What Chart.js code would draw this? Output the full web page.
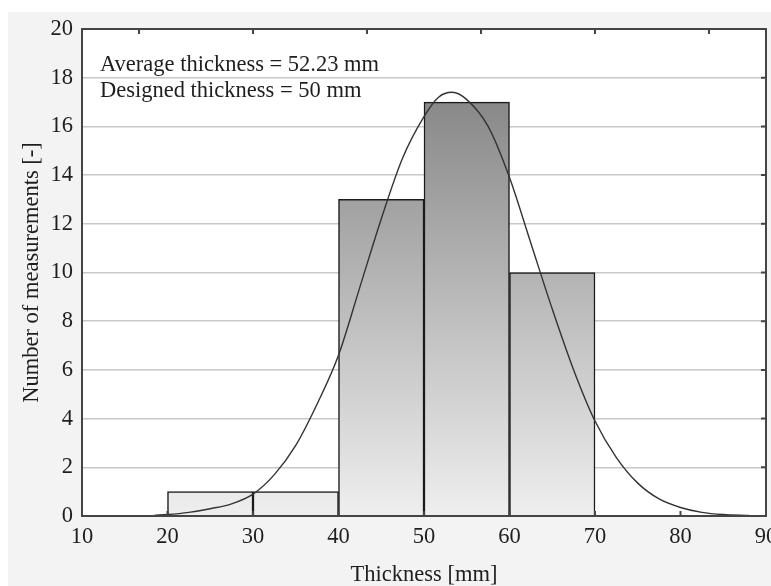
<!doctype html>
<html>
<head>
  <meta charset="utf-8">
  <title>Thickness histogram</title>
  <script src="https://cdn.jsdelivr.net/npm/chart.js"></script>
  <style>html,body{margin:0;padding:0;background:#fff}#wrap{width:771px;height:586px}</style>
</head>
<body>
  <div id="wrap"><canvas id="chart" width="771" height="586"></canvas></div>
  <script>
    // histogram bins (centre of 10 mm class) and counts
    const binCentres = [25, 35, 45, 55, 65];
    const counts = [1, 1, 13, 17, 10];
    // fitted curve
    const curveX = [18.5, 20, 22.5, 25, 27.5, 30, 32.5, 35, 37.5, 40, 42.5, 45, 47.5, 50, 51.7, 53.3, 55, 57.5, 60, 62.5, 65, 67.5, 70, 72.5, 75, 77.5, 80, 82.5, 85, 88];
    const curveY = [0.03, 0.06, 0.15, 0.3, 0.5, 0.9, 1.7, 2.9, 4.6, 6.6, 9.4, 12.2, 14.7, 16.4, 17.2, 17.4, 17.1, 16.0, 13.9, 11.2, 8.5, 6.0, 3.9, 2.4, 1.35, 0.7, 0.35, 0.15, 0.06, 0.02];
    const xTicks = [10, 20, 30, 40, 50, 60, 70, 80, 90];
    const topTicks = [16.67, 30, 43.33, 56.67, 70, 83.33];
    const notes = ['Average thickness = 52.23 mm', 'Designed thickness = 50 mm'];

    const serif = 'Liberation Serif, Times New Roman, serif';

    const frame = {
      id: 'frame',
      beforeDraw(chart) {
        const { ctx, chartArea: a } = chart;
        ctx.save();
        ctx.fillStyle = '#fff';
        ctx.fillRect(0, 0, chart.width, chart.height);
        ctx.fillStyle = '#f3f3f3';
        ctx.fillRect(8, 12, chart.width - 8, chart.height - 12);
        ctx.fillStyle = '#fff';
        ctx.fillRect(a.left, a.top, a.right - a.left, a.bottom - a.top);
        ctx.restore();
      },
      afterDatasetsDraw(chart) {
        const { ctx, chartArea: a, scales } = chart;
        ctx.save();
        ctx.strokeStyle = '#444';
        ctx.lineWidth = 2;
        ctx.beginPath();
        topTicks.forEach(v => {
          const x = scales.x.getPixelForValue(v);
          ctx.moveTo(x, a.top); ctx.lineTo(x, a.top + 5);
        });
        xTicks.forEach(v => {
          const x = scales.x.getPixelForValue(v);
          ctx.moveTo(x, a.bottom); ctx.lineTo(x, a.bottom - 5);
        });
        for (let v = 0; v <= 20; v += 2) {
          const y = scales.y.getPixelForValue(v);
          ctx.moveTo(a.right, y); ctx.lineTo(a.right - 5, y);
        }
        ctx.stroke();
        ctx.lineWidth = 2;
        ctx.strokeRect(a.left, a.top, a.right - a.left, a.bottom - a.top);
        ctx.fillStyle = '#1e1e1e';
        ctx.font = '22.5px ' + serif;
        ctx.textBaseline = 'alphabetic';
        notes.forEach((t, i) => ctx.fillText(t, a.left + 18, a.top + 42 + i * 26));
        ctx.restore();
      }
    };

    const ctx = document.getElementById('chart').getContext('2d');
    new Chart(ctx, {
      data: {
        datasets: [{
          type: 'line',
          order: 0,
          data: curveX.map((x, i) => ({ x, y: curveY[i] })),
          borderColor: '#333',
          borderWidth: 1.4,
          pointRadius: 0,
          cubicInterpolationMode: 'monotone',
          fill: false
        }, {
          type: 'bar',
          order: 1,
          data: binCentres.map((x, i) => ({ x, y: counts[i] })),
          barPercentage: 1,
          categoryPercentage: 1,
          borderColor: '#1a1a1a',
          borderWidth: 1.5,
          backgroundColor(c) {
            const { chart } = c;
            if (!chart.chartArea) return '#bbb';
            const y = chart.scales.y;
            const g = chart.ctx.createLinearGradient(0, y.getPixelForValue(17), 0, y.getPixelForValue(0));
            g.addColorStop(0, '#898989');
            g.addColorStop(1, '#efefef');
            return g;
          }
        }]
      },
      options: {
        responsive: false,
        animation: false,
        layout: { padding: { left: 0, right: 5, top: 29, bottom: 0 } },
        plugins: { legend: { display: false }, tooltip: { enabled: false } },
        scales: {
          x: {
            type: 'linear',
            offset: false,
            min: 10, max: 90,
            afterBuildTicks(s) { s.ticks = xTicks.map(v => ({ value: v })); },
            afterFit(s) { s.height = 70; s.paddingLeft = 0; s.paddingRight = 0; },
            grid: { display: false, drawTicks: false, offset: false },
            border: { display: false },
            ticks: { color: '#1e1e1e', padding: 8, maxRotation: 0, font: { family: serif, size: 22.5 } },
            title: { display: true, text: 'Thickness [mm]', color: '#1e1e1e', padding: { top: 0, bottom: 0 }, font: { family: serif, size: 22.5, lineHeight: 1 } }
          },
          y: {
            min: 0, max: 20,
            afterFit(s) { s.width = 82; s.paddingTop = 0; s.paddingBottom = 0; },
            grid: { color: '#c8c8c8', lineWidth: 1.5, drawTicks: false },
            border: { display: false },
            ticks: { stepSize: 2, color: '#1e1e1e', padding: 9, font: { family: serif, size: 22.5 } },
            title: { display: true, text: 'Number of measurements [-]', color: '#1e1e1e', padding: { top: 21, bottom: 0 }, font: { family: serif, size: 22.5, lineHeight: 1 } }
          }
        }
      },
      plugins: [frame]
    });
  </script>
</body>
</html>
